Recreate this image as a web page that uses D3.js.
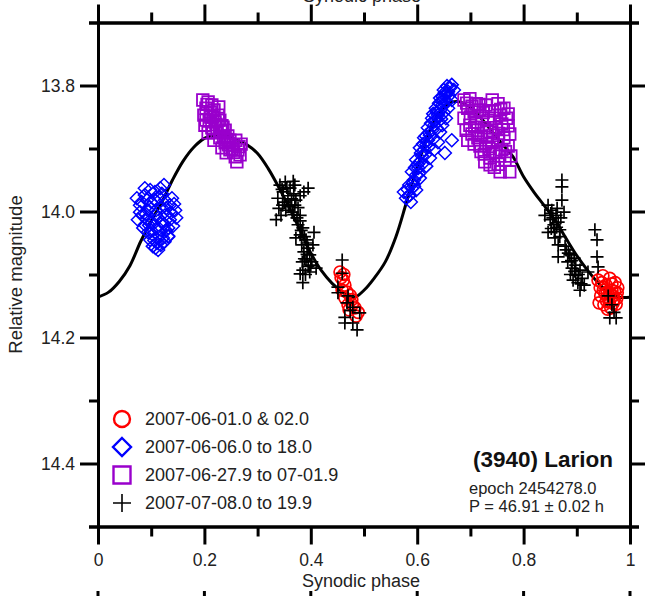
<!DOCTYPE html>
<html>
<head>
<meta charset="utf-8">
<script src="https://cdn.jsdelivr.net/npm/d3@7"></script>
<style>
  body { margin: 0; background: #fff; }
  svg { display: block; font-family: "Liberation Sans", Arial, sans-serif; }
</style>
</head>
<body>
<svg id="chart" width="645" height="596"></svg>
<script>
// fitted Fourier curve, [phase, magnitude]
const fitCurve = [
  [0.00,14.136],[0.02,14.128],[0.04,14.111],[0.06,14.086],[0.08,14.048],[0.10,14.015],
  [0.12,13.985],[0.14,13.950],[0.16,13.920],[0.18,13.898],[0.20,13.884],[0.22,13.878],
  [0.24,13.880],[0.26,13.886],[0.28,13.894],[0.30,13.908],[0.32,13.932],[0.34,13.962],
  [0.36,13.995],[0.38,14.030],[0.40,14.066],[0.42,14.094],[0.44,14.114],[0.46,14.128],
  [0.48,14.137],[0.50,14.125],[0.52,14.105],[0.54,14.080],[0.56,14.040],[0.58,13.985],
  [0.60,13.930],[0.62,13.880],[0.64,13.845],[0.66,13.828],[0.68,13.826],[0.70,13.835],
  [0.72,13.852],[0.74,13.872],[0.76,13.893],[0.78,13.913],[0.80,13.945],[0.82,13.970],
  [0.84,13.992],[0.86,14.015],[0.88,14.043],[0.90,14.070],[0.92,14.093],[0.94,14.113],
  [0.96,14.128],[0.98,14.136],[1.00,14.136]
];

// 2007-06-01.0 & 02.0
const redObs = [
  [0.455,14.096],[0.461,14.109],[0.459,14.125],[0.464,14.137],[0.470,14.148],[0.477,14.140],
  [0.483,14.153],[0.489,14.160],[0.474,14.133],[0.464,14.117],[0.457,14.105],[0.468,14.128],
  [0.485,14.166],[0.472,14.156],[0.462,14.100],[0.478,14.148],
  [0.940,14.109],[0.949,14.102],[0.962,14.106],[0.972,14.113],[0.944,14.121],[0.955,14.117],
  [0.966,14.125],[0.976,14.129],[0.945,14.134],[0.959,14.137],[0.970,14.140],[0.951,14.148],
  [0.964,14.153],[0.974,14.147],[0.942,14.145],[0.957,14.128],[0.968,14.134],[0.977,14.121],
  [0.947,14.113],[0.961,14.144],[0.953,14.131],[0.966,14.115],[0.975,14.138],[0.958,14.155],
  [0.950,14.125],[0.962,14.130],[0.971,14.127],[0.956,14.142],[0.968,14.146]
];

// 2007-06-06.0 to 18.0
const blueObs = [
  [0.079,13.990],[0.088,13.974],[0.098,13.966],[0.117,13.963],[0.126,13.982],[0.135,13.990],
  [0.145,13.998],[0.139,13.979],[0.107,13.982],[0.094,13.998],[0.083,14.006],[0.075,14.013],
  [0.088,14.021],[0.102,14.017],[0.113,14.010],[0.126,14.006],[0.135,14.013],[0.132,14.026],
  [0.117,14.029],[0.103,14.037],[0.094,14.033],[0.085,14.026],[0.098,14.045],[0.111,14.050],
  [0.122,14.042],[0.132,14.039],[0.113,14.061],[0.103,14.055],[0.092,14.013],[0.120,13.994],
  [0.147,14.010],[0.141,14.023],[0.079,14.001],[0.073,13.979],[0.109,13.998],[0.124,14.020],
  [0.124,13.958],[0.132,14.040],[0.118,14.053],[0.088,13.963],[0.107,13.969],
  [0.100,13.985],[0.115,13.978],[0.128,13.995],[0.108,14.005],[0.096,14.022],[0.110,14.027],
  [0.121,14.018],[0.137,14.002],[0.090,14.004],[0.100,14.030],[0.115,14.040],[0.106,14.046],
  [0.128,14.030],[0.082,13.985],[0.092,13.982],[0.143,13.988],[0.120,13.972],[0.108,14.058],
  [0.097,13.993],[0.125,14.048],
  [0.579,13.979],[0.586,13.974],[0.590,13.963],[0.585,13.958],[0.594,13.950],[0.598,13.942],
  [0.590,13.937],[0.602,13.931],[0.605,13.921],[0.598,13.918],[0.609,13.912],[0.613,13.902],
  [0.605,13.899],[0.617,13.894],[0.620,13.887],[0.613,13.883],[0.624,13.879],[0.628,13.871],
  [0.620,13.867],[0.632,13.863],[0.635,13.855],[0.628,13.852],[0.639,13.847],[0.643,13.839],
  [0.635,13.836],[0.647,13.831],[0.650,13.823],[0.643,13.820],[0.654,13.815],[0.658,13.810],
  [0.650,13.807],[0.662,13.804],[0.665,13.799],[0.656,13.801],[0.669,13.807],[0.665,13.823],
  [0.658,13.836],[0.654,13.852],[0.647,13.863],[0.643,13.874],[0.665,13.887],[0.652,13.907],
  [0.639,13.890],[0.632,13.902],[0.624,13.915],[0.617,13.928],[0.605,13.947],[0.598,13.966],
  [0.588,13.985],[0.575,13.969],
  [0.582,13.965],[0.592,13.955],[0.596,13.930],[0.601,13.925],[0.607,13.907],[0.611,13.893],
  [0.616,13.880],[0.622,13.875],[0.626,13.860],[0.630,13.845],[0.637,13.842],[0.641,13.828],
  [0.648,13.818],[0.652,13.811],[0.660,13.816],[0.656,13.826],[0.650,13.843],[0.645,13.853],
  [0.637,13.868],[0.630,13.885],[0.622,13.897],[0.615,13.910],[0.609,13.925],[0.603,13.940],
  [0.594,13.960],[0.584,13.975]
];

// 2007-06-27.9 to 07-01.9
const purpleObs = [
  [0.197,13.823],[0.207,13.826],[0.214,13.831],[0.203,13.836],[0.211,13.842],[0.199,13.847],
  [0.218,13.839],[0.226,13.847],[0.209,13.855],[0.220,13.858],[0.229,13.855],[0.201,13.863],
  [0.214,13.867],[0.233,13.864],[0.224,13.874],[0.239,13.871],[0.207,13.875],[0.244,13.880],
  [0.229,13.883],[0.248,13.887],[0.218,13.887],[0.239,13.891],[0.254,13.894],[0.259,13.887],
  [0.263,13.902],[0.248,13.902],[0.233,13.899],[0.267,13.910],[0.258,13.913],[0.269,13.893],
  [0.241,13.907],[0.261,13.921],[0.216,13.850],[0.227,13.834],
  [0.205,13.830],[0.212,13.850],[0.222,13.862],[0.231,13.872],[0.236,13.880],[0.245,13.894],
  [0.252,13.900],[0.226,13.855],[0.216,13.875],[0.242,13.886],[0.255,13.906],[0.265,13.897],
  [0.203,13.855],[0.235,13.866],
  [0.688,13.823],[0.699,13.821],[0.711,13.829],[0.695,13.836],[0.707,13.842],[0.718,13.839],
  [0.729,13.831],[0.741,13.823],[0.752,13.829],[0.763,13.836],[0.771,13.845],[0.756,13.847],
  [0.744,13.852],[0.733,13.855],[0.722,13.852],[0.711,13.858],[0.699,13.863],[0.688,13.852],
  [0.692,13.871],[0.703,13.877],[0.714,13.871],[0.726,13.867],[0.737,13.874],[0.748,13.867],
  [0.759,13.861],[0.771,13.864],[0.774,13.877],[0.763,13.883],[0.752,13.887],[0.741,13.890],
  [0.729,13.893],[0.718,13.896],[0.707,13.893],[0.695,13.887],[0.726,13.909],[0.737,13.915],
  [0.748,13.906],[0.759,13.902],[0.771,13.896],[0.776,13.912],[0.765,13.918],[0.752,13.925],
  [0.737,13.926],[0.727,13.921],[0.756,13.937],[0.774,13.937],[0.714,13.883],
  [0.693,13.828],[0.703,13.833],[0.716,13.830],[0.724,13.843],[0.735,13.840],[0.746,13.840],
  [0.757,13.838],[0.768,13.852],[0.762,13.870],[0.753,13.876],[0.743,13.879],[0.732,13.882],
  [0.720,13.880],[0.708,13.866],[0.700,13.850],[0.735,13.900],[0.744,13.905],[0.755,13.912],
  [0.766,13.905],[0.720,13.905],[0.745,13.930]
];

// 2007-07-08.0 to 19.9
const blackObs = [
  [0.342,13.958],[0.352,13.953],[0.361,13.963],[0.370,13.958],[0.348,13.969],[0.357,13.975],
  [0.368,13.972],[0.338,13.979],[0.350,13.985],[0.361,13.990],[0.372,13.982],[0.380,13.975],
  [0.353,13.998],[0.365,14.001],[0.376,13.994],[0.344,14.006],[0.380,14.006],[0.387,13.969],
  [0.395,13.963],[0.367,13.952],[0.335,14.013],[0.376,14.021],[0.385,14.026],[0.380,14.037],
  [0.391,14.045],[0.383,14.053],[0.395,14.058],[0.387,14.064],[0.398,14.069],[0.391,14.077],
  [0.402,14.080],[0.395,14.087],[0.385,14.093],[0.398,14.096],[0.410,14.090],[0.380,14.099],
  [0.385,14.113],[0.404,14.053],[0.372,14.042],[0.406,14.033],
  [0.346,13.965],[0.355,13.962],[0.364,13.980],[0.370,13.990],[0.358,13.992],[0.347,13.990],
  [0.340,13.995],[0.368,14.005],[0.374,14.010],[0.382,14.030],[0.388,14.040],[0.393,14.050],
  [0.388,14.075],[0.393,14.068],[0.400,14.085],[0.390,14.100],[0.384,14.080],[0.380,14.015],
  [0.459,14.077],[0.459,14.098],[0.451,14.120],[0.451,14.129],[0.468,14.145],[0.474,14.157],
  [0.464,14.168],[0.479,14.177],[0.487,14.188],[0.492,14.161],[0.464,14.177],[0.479,14.152],
  [0.470,14.134],
  [0.846,13.990],[0.853,13.998],[0.861,14.006],[0.850,14.013],[0.857,14.021],[0.865,14.017],
  [0.868,14.029],[0.846,14.033],[0.859,14.042],[0.872,13.982],[0.872,13.961],[0.872,13.950],
  [0.876,14.001],[0.865,14.053],[0.880,14.061],[0.887,14.069],[0.895,14.074],[0.883,14.080],
  [0.891,14.090],[0.898,14.085],[0.906,14.093],[0.898,14.101],[0.910,14.106],[0.902,14.113],
  [0.914,14.117],[0.906,14.125],[0.893,14.109],[0.934,14.029],[0.938,14.045],[0.938,14.072],
  [0.940,14.088],[0.921,14.096],[0.865,14.072],[0.840,14.006],[0.966,14.148],[0.970,14.160],
  [0.974,14.169],[0.962,14.169],[0.959,14.134],
  [0.851,14.003],[0.855,14.010],[0.862,14.025],[0.852,14.027],[0.858,14.032],[0.868,14.040],
  [0.878,14.055],[0.884,14.066],[0.890,14.078],[0.896,14.095],[0.903,14.100],[0.888,14.100],
  [0.908,14.115],[0.870,14.010],[0.863,13.995]
];

const legendLabels = ["2007-06-01.0 & 02.0", "2007-06-06.0 to 18.0", "2007-06-27.9 to 07-01.9", "2007-07-08.0 to 19.9"];
const xMajor = [0, 0.2, 0.4, 0.6, 0.8, 1];
const xMinor = [0.1, 0.3, 0.5, 0.7, 0.9];
const yMajor = [13.8, 14.0, 14.2, 14.4];
const yMinor = [13.7, 13.9, 14.1, 14.3, 14.5];

const svg = d3.select("#chart");
const plotLeft = 98, plotRight = 630, plotTop = 22.5, plotBottom = 526.5;

const x = d3.scaleLinear().domain([0, 1]).range([plotLeft, plotRight]);
const y = d3.scaleLinear().domain([13.7, 14.5]).range([plotTop, plotBottom]);

// marker shapes
const shape = {
  circle: r => `M${r},0A${r},${r},0,1,1,${-r},0A${r},${r},0,1,1,${r},0Z`,
  diamond: r => `M0,${-r}L${r},0L0,${r}L${-r},0Z`,
  square: r => `M${-r},${-r}H${r}V${r}H${-r}Z`,
  plus: r => `M${-r},0H${r}M0,${-r}V${r}`
};

const series = [
  {data: redObs, color: "#ff0000", type: "circle", r: 6, lr: 8, sw: 1.7},
  {data: blueObs, color: "#0000ff", type: "diamond", r: 6.5, lr: 9, sw: 1.5},
  {data: purpleObs, color: "#9900cc", type: "square", r: 5.8, lr: 8.5, sw: 1.8},
  {data: blackObs, color: "#000000", type: "plus", r: 6.5, lr: 9, sw: 1.7}
];

// axes
function styleAxis(g) {
  g.selectAll(".domain").attr("stroke", "#000").attr("stroke-width", 3);
  g.selectAll(".tick line").attr("stroke", "#000").attr("stroke-width", 3);
  g.selectAll(".tick text").attr("fill", "#222").style("font-size", "17.5px")
    .style("font-family", "'Liberation Sans', Arial, sans-serif");
}

svg.append("g").attr("transform", `translate(0,${plotBottom})`)
  .call(d3.axisBottom(x).tickValues(xMajor).tickSize(18).tickSizeOuter(0).tickPadding(9).tickFormat(d3.format("")))
  .call(styleAxis);
svg.append("g").attr("transform", `translate(0,${plotBottom})`)
  .call(d3.axisBottom(x).tickValues(xMinor).tickSize(10).tickFormat(""))
  .call(styleAxis);
svg.append("g").attr("transform", `translate(0,${plotTop})`)
  .call(d3.axisTop(x).tickValues(xMajor).tickSize(18).tickSizeOuter(0).tickFormat(""))
  .call(styleAxis);
svg.append("g").attr("transform", `translate(0,${plotTop})`)
  .call(d3.axisTop(x).tickValues(xMinor).tickSize(10).tickFormat(""))
  .call(styleAxis);
svg.append("g").attr("transform", `translate(${plotLeft},0)`)
  .call(d3.axisLeft(y).tickValues(yMajor).tickSize(18).tickSizeOuter(0).tickPadding(5).tickFormat(d3.format(".1f")))
  .call(styleAxis);
svg.append("g").attr("transform", `translate(${plotLeft},0)`)
  .call(d3.axisLeft(y).tickValues(yMinor).tickSize(9).tickFormat(""))
  .call(styleAxis);
svg.append("g").attr("transform", `translate(${plotRight},0)`)
  .call(d3.axisRight(y).tickValues(yMajor).tickSize(18).tickSizeOuter(0).tickFormat(""))
  .call(styleAxis);
svg.append("g").attr("transform", `translate(${plotRight},0)`)
  .call(d3.axisRight(y).tickValues(yMinor).tickSize(9).tickFormat(""))
  .call(styleAxis);

// neighbouring panel remnants (the figure is cropped from a larger page)
svg.append("text")
  .attr("x", 362).attr("y", 2)
  .attr("text-anchor", "middle").attr("fill", "#222")
  .style("font-size", "18px")
  .text("Synodic phase");
svg.append("g").selectAll("line")
  .data(xMajor)
  .join("line")
    .attr("x1", d => x(d)).attr("x2", d => x(d))
    .attr("y1", 591).attr("y2", 596)
    .attr("stroke", "#000").attr("stroke-width", 3);

// axis titles
svg.append("text")
  .attr("x", (plotLeft + plotRight) / 2 - 3).attr("y", 587)
  .attr("text-anchor", "middle").attr("fill", "#222")
  .style("font-size", "18px")
  .text("Synodic phase");
svg.append("text")
  .attr("transform", `translate(22,${y(14.1)}) rotate(-90)`)
  .attr("text-anchor", "middle").attr("fill", "#222")
  .style("font-size", "18.5px")
  .text("Relative magnitude");

// fit curve
svg.append("path")
  .datum(fitCurve)
  .attr("fill", "none")
  .attr("stroke", "#000")
  .attr("stroke-width", 3)
  .attr("d", d3.line().x(d => x(d[0])).y(d => y(d[1])).curve(d3.curveCatmullRom));

// observations
series.forEach(s => {
  svg.append("g")
    .selectAll("path")
    .data(s.data)
    .join("path")
      .attr("transform", d => `translate(${x(d[0])},${y(d[1])})`)
      .attr("d", shape[s.type](s.r))
      .attr("fill", "none")
      .attr("stroke", s.color)
      .attr("stroke-width", s.sw);
});

// legend
const legend = svg.append("g")
  .selectAll("g")
  .data(series)
  .join("g")
    .attr("transform", (d, i) => `translate(122,${419 + i * 28})`);
legend.append("path")
  .attr("d", d => shape[d.type](d.lr))
  .attr("fill", "none")
  .attr("stroke", d => d.color)
  .attr("stroke-width", d => d.type === "plus" ? 1.6 : 2.4);
legend.append("text")
  .attr("x", 23).attr("dy", "0.35em")
  .attr("fill", "#222")
  .style("font-size", "18px")
  .text((d, i) => legendLabels[i]);

// object annotation
svg.append("text")
  .attr("x", 613).attr("y", 467)
  .attr("text-anchor", "end").attr("fill", "#111")
  .style("font-size", "22.5px").style("font-weight", "bold")
  .text("(3940) Larion");
svg.append("text")
  .attr("x", 469).attr("y", 494)
  .attr("fill", "#222").style("font-size", "16.5px")
  .text("epoch 2454278.0");
svg.append("text")
  .attr("x", 469).attr("y", 512)
  .attr("fill", "#222").style("font-size", "16.5px")
  .text("P = 46.91 \u00b1 0.02 h");
</script>
</body>
</html>
